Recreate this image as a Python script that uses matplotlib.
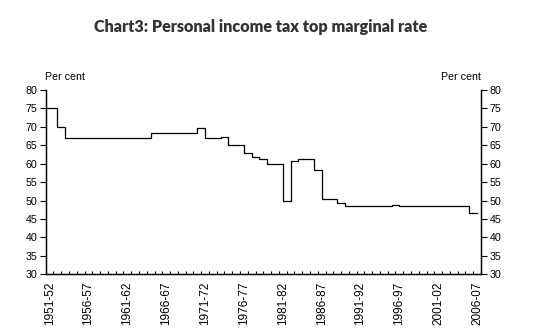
import matplotlib.pyplot as plt
import numpy as np

# Top marginal rate (per cent), one value per financial year 1951-52 .. 2006-07
years = [f"{y}-{(y + 1) % 100:02d}" for y in range(1951, 2007)]
rates = ([75, 70] + [67] * 11 + [68.4] * 6 + [69.8] + [67] * 2 + [67.25]
         + [65] * 2 + [63, 61.75, 61.25] + [60] * 2 + [50, 60.67]
         + [61.25] * 2 + [58.2] + [50.3] * 2 + [49.3] + [48.5] * 6
         + [48.7] + [48.5] * 9 + [46.5] * 2)
yticks = [30, 35, 40, 45, 50, 55, 60, 65, 70, 75, 80]

x = np.arange(len(years))

fig = plt.figure(figsize=(5.33, 3.34), dpi=100)
ax = fig.add_axes([45.7 / 533, 1 - 274.3 / 334, (481 - 45.7) / 533, (274.3 - 90) / 334])

# step line, first value carried back to the left edge of the axis
ax.step(np.r_[x[0] - 0.5, x], np.r_[rates[0], rates], where="post",
        color="black", lw=0.9)

ax.set_xlim(-0.5, len(years) - 0.5)
ax.set_ylim(30, 80)
ax.set_yticks(yticks)

ax.set_xticks(x[::5])
ax.set_xticklabels(years[::5], rotation=90, fontsize=8.5, family="Liberation Sans")
ax.set_xticks(np.arange(len(years) + 1) - 0.5, minor=True)
ax.tick_params(axis="x", which="major", length=0, pad=5.5)
ax.tick_params(axis="x", which="minor", direction="in", length=2.5, width=0.8)
ax.tick_params(axis="y", direction="out", length=4, width=0.8, pad=2,
               labelsize=7.7)
for lab in ax.get_yticklabels():
    lab.set_family("Liberation Sans")

ax2 = ax.twinx()
ax2.set_ylim(30, 80)
ax2.set_yticks(yticks)
ax2.tick_params(axis="y", direction="out", length=4, width=0.8, pad=2,
                labelsize=7.7)
for lab in ax2.get_yticklabels():
    lab.set_family("Liberation Sans")

for a in (ax, ax2):
    a.spines["top"].set_visible(False)
    for s in ("left", "right", "bottom"):
        a.spines[s].set_linewidth(0.9)

fig.text(45 / 533, 1 - 77 / 334, "Per cent", fontsize=7.7,
         family="Liberation Sans", ha="left", va="center")
fig.text(481 / 533, 1 - 77 / 334, "Per cent", fontsize=7.7,
         family="Liberation Sans", ha="right", va="center")

fig.text(261 / 533, 1 - 27 / 334, "Chart3: Personal income tax top marginal rate",
         fontsize=11.6, fontweight="heavy", family="Lato", color="#333333",
         ha="center", va="center")

fig.savefig("out.png", dpi=100)
